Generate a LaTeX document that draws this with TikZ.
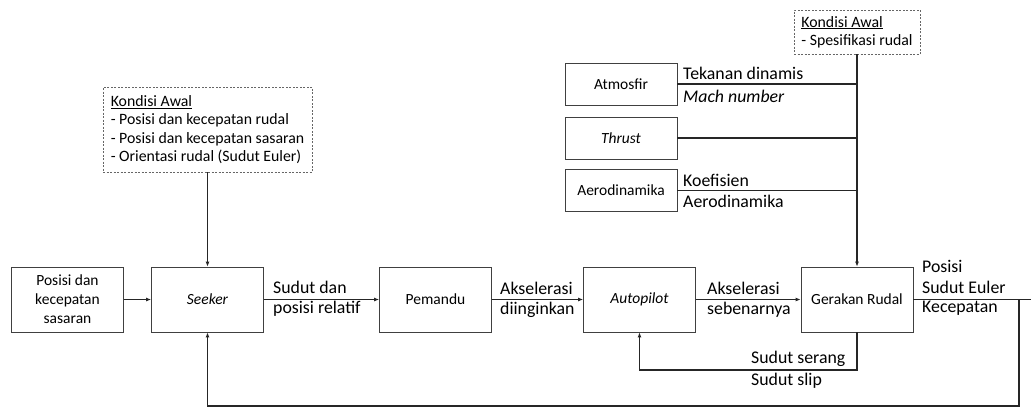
\documentclass[tikz,border=0pt]{standalone}
\usepackage{fontspec}
\setmainfont{Carlito}
\usepackage{tikz}
\usetikzlibrary{arrows.meta}

\tikzset{
  blok/.style={draw=black!75, line width=0.7pt, minimum width=112pt, minimum height=65pt, inner sep=2pt, font=\fontsize{15.5}{19}\selectfont},
  blokkecil/.style={blok, minimum height=42pt},
  kondisi/.style={draw=black!60, dashed, dash pattern=on 2pt off 1.5pt, line width=0.7pt, align=left, inner sep=2pt, font=\fontsize{15.8}{18.3}\selectfont},
  garis/.style={line width=1.2pt, black!85},
  panah/.style={garis, -{Latex[length=5pt,width=4pt]}},
  teks/.style={font=\fontsize{17.8}{19}\selectfont, inner sep=0pt}
}

\begin{document}
\begin{tikzpicture}[x=1pt, y=-1pt]
\useasboundingbox (0,0) rectangle (1031,408);
% blok utama
\node[blok, align=center] (sasaran) at (67.5,299.5) {Posisi dan\\kecepatan\\sasaran};
\node[blok] (seeker) at (207.5,299.5) {\itshape Seeker};
\node[blok] (pemandu) at (435.5,299.5) {Pemandu};
\node[blok] (autopilot) at (639.5,299.5) {\itshape Autopilot};
\node[blok] (gerak) at (857,299.5) {Gerakan Rudal};
% blok samping
\node[blokkecil] (atmosfir) at (621,84) {Atmosfir};
\node[blokkecil] (thrust) at (621,138) {\itshape Thrust};
\node[blokkecil] (aero) at (621,190.5) {Aerodinamika};
% kondisi awal
\node[kondisi, minimum width=209pt, minimum height=85pt] (awal) at (207.5,129.5) {\underline{Kondisi Awal}\\- Posisi dan kecepatan rudal\\- Posisi dan kecepatan sasaran\\- Orientasi rudal (Sudut Euler)};
\node[kondisi, minimum width=126pt, minimum height=44pt] (awalrudal) at (857,32) {\underline{Kondisi Awal}\\- Spesifikasi rudal};
% titik bantu
\coordinate (ta) at (857,84);
\coordinate (tt) at (857,138);
\coordinate (tr) at (857,190.5);
\coordinate (keluar) at (1031,299.5);
\coordinate (cabang) at (1019,299.5);
\coordinate (bawah1) at (1019,406);
\coordinate (bawah2) at (207.5,406);
\coordinate (balik1) at (857,370);
\coordinate (balik2) at (639.5,370);
% panah
\draw[panah] (sasaran) -- (seeker);
\draw[panah] (awal) -- (seeker);
\draw[panah] (seeker) -- (pemandu);
\draw[panah] (pemandu) -- (autopilot);
\draw[panah] (autopilot) -- (gerak);
\draw[panah] (awalrudal) -- (gerak);
\draw[garis] (atmosfir) -- (ta);
\draw[garis] (thrust) -- (tt);
\draw[garis] (aero) -- (tr);
\draw[garis] (gerak) -- (keluar);
\draw[panah] (cabang) -- (bawah1) -- (bawah2) -- (seeker);
\draw[panah] (gerak) -- (balik1) -- (balik2) -- (autopilot);
% label
\node[teks, anchor=west] (l1) at (273,287) {Sudut dan};
\node[teks, anchor=west] (l2) at (273,309) {posisi relatif};
\node[teks, anchor=west] (l3) at (500,288) {Akselerasi};
\node[teks, anchor=west] (l4) at (500,310) {diinginkan};
\node[teks, anchor=west] (l5) at (707,288) {Akselerasi};
\node[teks, anchor=west] (l6) at (707,310) {sebenarnya};
\node[teks, anchor=west] (l7) at (922,266) {Posisi};
\node[teks, anchor=west] (l8) at (922,287) {Sudut Euler};
\node[teks, anchor=west] (l9) at (922,308) {Kecepatan};
\node[teks, anchor=west] (l10) at (751,359) {Sudut serang};
\node[teks, anchor=west] (l11) at (751,381) {Sudut slip};
\node[teks, anchor=west] (l12) at (683,73) {Tekanan dinamis};
\node[teks, anchor=west] (l13) at (683,96) {\itshape Mach number};
\node[teks, anchor=west] (l14) at (683,180) {Koefisien};
\node[teks, anchor=west] (l15) at (683,201) {Aerodinamika};
\end{tikzpicture}
\end{document}
